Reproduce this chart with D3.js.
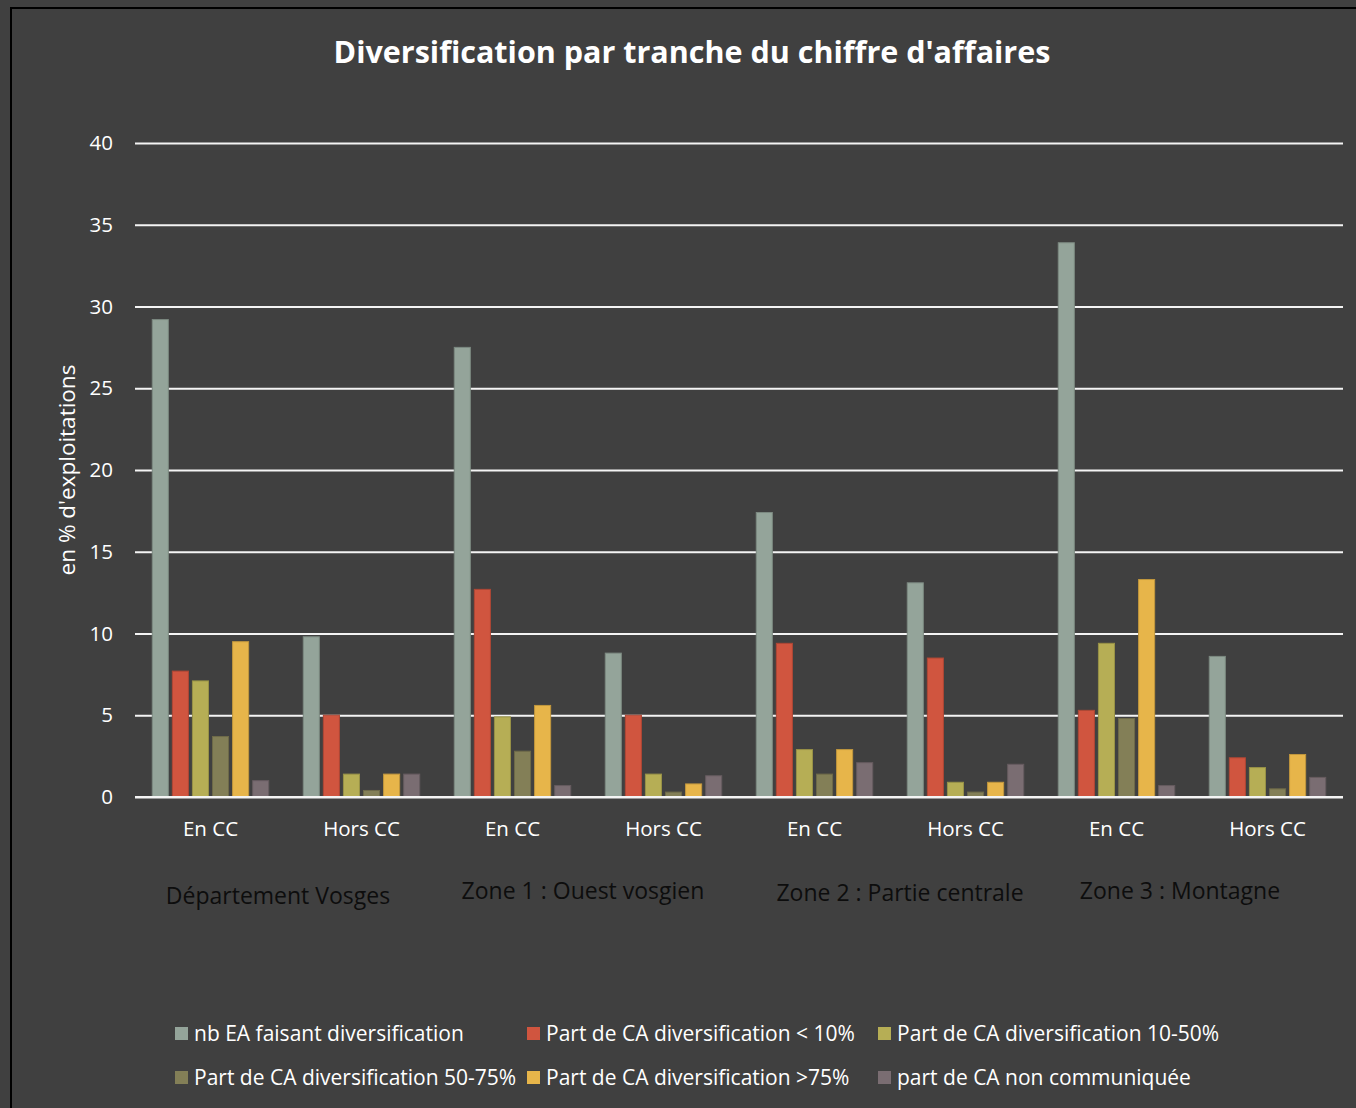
<!DOCTYPE html>
<html lang="fr">
<head>
<meta charset="utf-8">
<title>Diversification par tranche du chiffre d'affaires</title>
<script src="https://cdn.jsdelivr.net/npm/d3@7"></script>
<style>
  html, body { margin: 0; padding: 0; background: #404040; }
  svg { display: block; }
  text { font-family: "Open Sans", "Noto Sans", sans-serif; }
</style>
</head>
<body>
<svg id="chart" width="1356" height="1108"></svg>
<script>
// Categories (x axis, inner level) and their groups (outer level)
const categories = ["En CC", "Hors CC", "En CC", "Hors CC", "En CC", "Hors CC", "En CC", "Hors CC"];
const groups = ["Département Vosges", "Zone 1 : Ouest vosgien", "Zone 2 : Partie centrale", "Zone 3 : Montagne"];

// Series names
const seriesNames = [
  "nb EA faisant diversification",
  "Part de CA diversification < 10%",
  "Part de CA diversification 10-50%",
  "Part de CA diversification 50-75%",
  "Part de CA diversification >75%",
  "part de CA non communiquée"
];
const seriesColors = ["#94a49a", "#d0553f", "#b6ae55", "#837f57", "#e7b54a", "#7a6d72"];

// Values (% of farms), one array per series, in category order
const nbEA      = [29.2, 9.8, 27.5, 8.8, 17.4, 13.1, 33.9, 8.6];
const partLt10  = [7.7, 5.0, 12.7, 5.0, 9.4, 8.5, 5.3, 2.4];
const part10_50 = [7.1, 1.4, 4.9, 1.4, 2.9, 0.9, 9.4, 1.8];
const part50_75 = [3.7, 0.4, 2.8, 0.3, 1.4, 0.3, 4.8, 0.5];
const partGt75  = [9.5, 1.4, 5.6, 0.8, 2.9, 0.9, 13.3, 2.6];
const partNC    = [1.0, 1.4, 0.7, 1.3, 2.1, 2.0, 0.7, 1.2];

const seriesValues = [nbEA, partLt10, part10_50, part50_75, partGt75, partNC];

// Y axis ticks
const yTicks = [0, 5, 10, 15, 20, 25, 30, 35, 40];

const svg = d3.select("#chart");
const W = 1356, H = 1108;

// Outer frame of the chart
svg.append("rect")
  .attr("x", 11).attr("y", 8)
  .attr("width", W + 20).attr("height", H + 20)
  .attr("fill", "#404040")
  .attr("stroke", "#000").attr("stroke-width", 2);

const plot = { left: 135, right: 1343, top: 143, bottom: 797 };

const x0 = d3.scaleBand()
  .domain(d3.range(categories.length))
  .range([plot.left, plot.right])
  .paddingInner(0).paddingOuter(0);

const x1 = d3.scaleBand()
  .domain(d3.range(seriesNames.length))
  .range([0, x0.bandwidth()])
  .paddingInner(0.2).paddingOuter(0.86);

const y = d3.scaleLinear().domain([0, 40]).range([plot.bottom, plot.top]);

// Title
svg.append("text")
  .attr("x", 692).attr("y", 63)
  .attr("text-anchor", "middle")
  .attr("fill", "#fff")
  .attr("font-size", 30.5).attr("font-weight", 700)
  .text("Diversification par tranche du chiffre d'affaires");

// Gridlines + y tick labels
const yAxis = d3.axisLeft(y).tickValues(yTicks)
  .tickSize(-(plot.right - plot.left)).tickPadding(22)
  .tickFormat(d3.format("d"));

const gy = svg.append("g")
  .attr("transform", `translate(${plot.left},0)`)
  .call(yAxis);
gy.select(".domain").remove();
gy.selectAll(".tick line").attr("stroke", "#f4f4f4").attr("stroke-width", 2);
gy.selectAll(".tick text")
  .attr("fill", "#fff").attr("font-size", 20.5)
  .attr("font-family", "'Open Sans', sans-serif");

// Y axis title
svg.append("text")
  .attr("transform", "translate(75,470) rotate(-90)")
  .attr("text-anchor", "middle")
  .attr("fill", "#fff").attr("font-size", 22.5)
  .text("en % d'exploitations");

// Bars
const catG = svg.append("g").selectAll("g")
  .data(categories)
  .join("g")
  .attr("transform", (d, i) => `translate(${x0(i)},0)`);

catG.selectAll("rect")
  .data((d, i) => seriesValues.map((vals, s) => ({ s, v: vals[i] })))
  .join("rect")
  .attr("x", d => x1(d.s))
  .attr("width", x1.bandwidth())
  .attr("y", d => y(d.v))
  .attr("height", d => y(0) - y(d.v))
  .attr("fill", d => seriesColors[d.s])
  .attr("stroke", d => d3.color(seriesColors[d.s]).darker(0.5))
  .attr("stroke-width", 1);

// Baseline redrawn above the bars
svg.append("line")
  .attr("x1", plot.left).attr("x2", plot.right)
  .attr("y1", y(0)).attr("y2", y(0))
  .attr("stroke", "#f4f4f4").attr("stroke-width", 2);

// Category labels
svg.append("g").selectAll("text")
  .data(categories)
  .join("text")
  .attr("x", (d, i) => x0(i) + x0.bandwidth() / 2)
  .attr("y", 836)
  .attr("text-anchor", "middle")
  .attr("fill", "#fff").attr("font-size", 20.5)
  .text(d => d);

// Group labels (slightly shifted, as wrapped multi-level labels sit off-centre)
const groupShiftX = [-8, -5, 10, -12];
const groupShiftY = [5, 0, 2, 0];
svg.append("g").selectAll("text")
  .data(groups)
  .join("text")
  .attr("x", (d, i) => x0(i * 2) + x0.bandwidth() + groupShiftX[i])
  .attr("y", (d, i) => 899 + groupShiftY[i])
  .attr("text-anchor", "middle")
  .attr("fill", "#0d0d0d").attr("font-size", 23)
  .text(d => d);

// Legend: 3 columns, 2 rows
const legendCols = [175, 527, 878];
const legendRows = [1034, 1078];
const lg = svg.append("g").selectAll("g")
  .data(seriesNames)
  .join("g")
  .attr("transform", (d, i) => `translate(${legendCols[i % 3]},${legendRows[Math.floor(i / 3)]})`);
lg.append("rect")
  .attr("x", 0).attr("y", -7)
  .attr("width", 13).attr("height", 13)
  .attr("fill", (d, i) => seriesColors[i]);
lg.append("text")
  .attr("x", 19).attr("y", 0)
  .attr("dy", "0.35em")
  .attr("fill", "#fff").attr("font-size", 21)
  .text(d => d);
</script>
</body>
</html>
